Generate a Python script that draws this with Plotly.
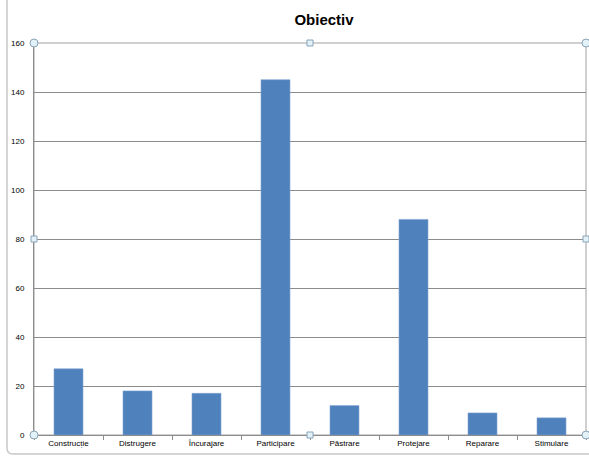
import plotly.graph_objects as go

categories = ["Construcție", "Distrugere", "Încurajare", "Participare", "Păstrare", "Protejare", "Reparare", "Stimulare"]
values = [27, 18, 17, 145, 12, 88, 9, 7]
y_ticks = [0, 20, 40, 60, 80, 100, 120, 140, 160]

W, H = 589, 462
L_abs, R_abs, T_abs, B_abs = 34, 586, 43, 435
L, R, T, B = L_abs, W - R_abs, T_abs, H - B_abs

def px(x):
    return (x - L_abs) / (R_abs - L_abs)

def py(y):
    return (B_abs - y) / (B_abs - T_abs)

fig = go.Figure(go.Bar(
    x=categories, y=values,
    marker=dict(color="#4f81bd", line=dict(color="#7fa3d0", width=0.6)),
    width=0.42,
))

shapes = []
# chart frame
shapes.append(dict(type="path", xref="paper", yref="paper",
                   path=f"M {px(7)},{py(0)} L {px(7)},{py(448)} Q {px(7)},{py(454)} {px(13)},{py(454)} L {px(595)},{py(454)}",
                   line=dict(color="#c8c8c8", width=1.5)))
# plot area border (top gridline + right edge)
shapes.append(dict(type="rect", xref="paper", yref="paper", x0=0, x1=1, y0=0, y1=1,
                   line=dict(color="#a0a0a0", width=1), layer="below"))
# selection handles
for hx, hy, kind in [(34, 43, "circle"), (586, 43, "circle"), (34, 435, "circle"), (586, 435, "circle"),
                     (310, 43, "rect"), (310, 435, "rect"), (34, 239, "rect"), (586, 239, "rect")]:
    s = 4 if kind == "circle" else 3
    shapes.append(dict(type=kind, xref="paper", yref="paper", xsizemode="pixel", ysizemode="pixel",
                       xanchor=px(hx), yanchor=py(hy), x0=-s, x1=s, y0=-s, y1=s,
                       fillcolor="#e3f1f8", line=dict(color="#8aa4b8", width=1)))

fig.update_layout(
    width=W, height=H,
    margin=dict(l=L, r=R, t=T, b=B, autoexpand=False),
    paper_bgcolor="white", plot_bgcolor="white",
    title=dict(text="<b>Obiectiv</b>", x=324 / W, xanchor="center", y=1 - 20 / H, yanchor="middle",
               font=dict(family="Liberation Sans, Arial", size=15, color="black")),
    font=dict(family="Liberation Sans, Arial", size=8, color="black"),
    showlegend=False,
    shapes=shapes,
    xaxis=dict(showline=True, linecolor="#8c8c8c", linewidth=1, ticks="outside", tickson="boundaries",
               ticklen=4, tickcolor="#8c8c8c", showgrid=False, tickfont=dict(size=8),
               automargin=False, fixedrange=True),
    yaxis=dict(range=[0, 160], tickvals=y_ticks, showline=True, linecolor="#8c8c8c", linewidth=1,
               showgrid=True, gridcolor="#8c8c8c", gridwidth=1, zeroline=False, ticks="",
               ticklabelstandoff=7, tickfont=dict(size=8), automargin=False, fixedrange=True),
)

fig.write_html("out.html", config={"displayModeBar": False},
               post_script="document.body.style.margin='0';")
